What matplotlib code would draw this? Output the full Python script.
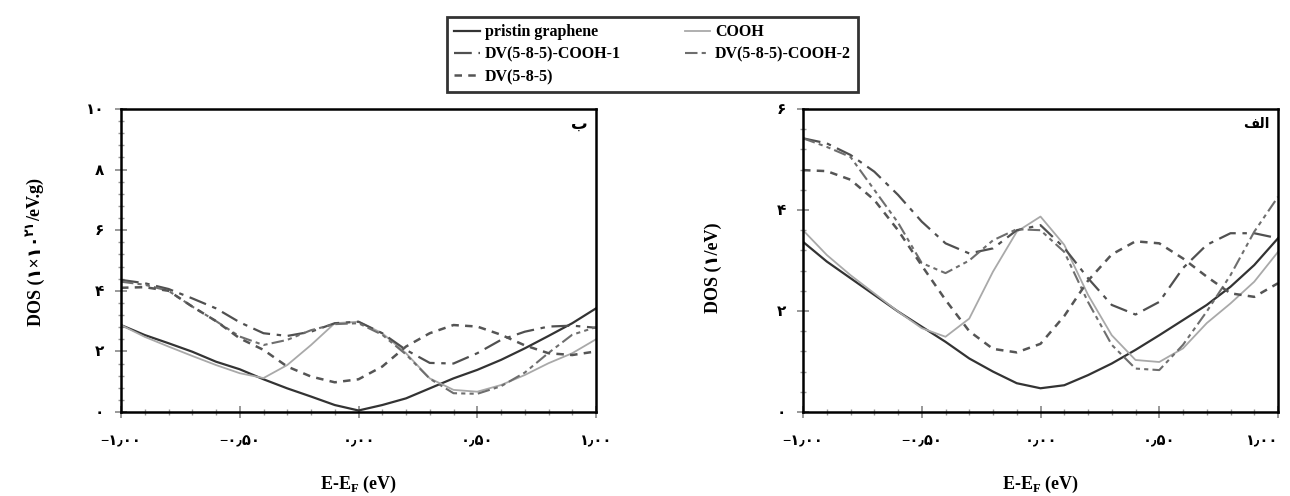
import matplotlib
matplotlib.use("Agg")
import matplotlib.pyplot as plt

FAM = ['Liberation Serif', 'DejaVu Sans']
plt.rcParams['font.family'] = FAM
plt.rcParams['font.weight'] = 'bold'

W, H = 1290, 496

# energy grid (eV)
energy = [-1.0, -0.9, -0.8, -0.7, -0.6, -0.5, -0.4, -0.3, -0.2, -0.1, 0.0,
          0.1, 0.2, 0.3, 0.4, 0.5, 0.6, 0.7, 0.8, 0.9, 1.0]

# panel b (left), DOS (1x10^21 /eV.g)
pristine_b = [2.87, 2.54, 2.27, 1.99, 1.66, 1.41, 1.08, 0.78, 0.51, 0.23, 0.05,
              0.23, 0.45, 0.78, 1.11, 1.39, 1.72, 2.10, 2.51, 2.93, 3.42]
cooh_b = [2.87, 2.48, 2.16, 1.85, 1.55, 1.28, 1.12, 1.55, 2.21, 2.93, 2.98,
          2.60, 1.94, 1.11, 0.73, 0.67, 0.89, 1.22, 1.61, 1.94, 2.40]
cooh1_b = [4.36, 4.25, 4.06, 3.75, 3.42, 2.96, 2.60, 2.51, 2.65, 2.93, 2.98,
           2.60, 2.05, 1.62, 1.60, 1.94, 2.38, 2.65, 2.82, 2.85, 2.78]
cooh2_b = [4.30, 4.20, 4.00, 3.48, 3.00, 2.49, 2.21, 2.38, 2.70, 2.90, 2.93,
           2.55, 1.90, 1.10, 0.62, 0.60, 0.85, 1.30, 1.95, 2.55, 2.80]
dv_b = [4.10, 4.12, 4.00, 3.48, 3.00, 2.43, 2.05, 1.50, 1.17, 0.98, 1.08,
        1.50, 2.16, 2.60, 2.87, 2.82, 2.55, 2.20, 1.94, 1.88, 2.00]

# panel a (right), DOS (1/eV)
pristine_a = [3.37, 2.98, 2.65, 2.32, 1.99, 1.69, 1.39, 1.06, 0.80, 0.57, 0.47,
              0.53, 0.73, 0.96, 1.23, 1.52, 1.82, 2.12, 2.48, 2.91, 3.44]
cooh_a = [3.60, 3.11, 2.71, 2.35, 1.99, 1.66, 1.49, 1.85, 2.78, 3.57, 3.87,
          3.31, 2.32, 1.52, 1.03, 0.99, 1.26, 1.76, 2.15, 2.58, 3.17]
cooh1_a = [5.42, 5.32, 5.09, 4.76, 4.30, 3.77, 3.34, 3.14, 3.24, 3.60, 3.70,
           3.25, 2.65, 2.12, 1.93, 2.18, 2.85, 3.31, 3.54, 3.54, 3.44]
cooh2_a = [5.42, 5.25, 5.05, 4.40, 3.75, 2.95, 2.75, 3.00, 3.40, 3.62, 3.60,
           3.17, 2.18, 1.33, 0.86, 0.83, 1.33, 1.99, 2.71, 3.57, 4.26]
dv_a = [4.79, 4.77, 4.60, 4.20, 3.60, 2.90, 2.22, 1.60, 1.25, 1.18, 1.35,
        1.90, 2.60, 3.12, 3.38, 3.34, 3.04, 2.68, 2.35, 2.28, 2.55]

labels = ['pristin graphene', 'COOH', 'DV(5-8-5)-COOH-1', 'DV(5-8-5)-COOH-2', 'DV(5-8-5)']

xticks = [-1.0, -0.5, 0.0, 0.5, 1.0]
xticklabels = ['\u2212\u06f1\u066b\u06f0\u06f0', '\u2212\u06f0\u066b\u06f5\u06f0',
               '\u06f0\u066b\u06f0\u06f0', '\u06f0\u066b\u06f5\u06f0', '\u06f1\u066b\u06f0\u06f0']
yticks_b = [0, 2, 4, 6, 8, 10]
yticklabels_b = ['\u06f0', '\u06f2', '\u06f4', '\u06f6', '\u06f8', '\u06f1\u06f0']
yticks_a = [0, 2, 4, 6]
yticklabels_a = ['\u06f0', '\u06f2', '\u06f4', '\u06f6']

styles = {
    'pristin graphene': dict(color='#333333', lw=1.6, ls='-'),
    'COOH': dict(color='#a9a9a9', lw=1.3, ls='-'),
    'DV(5-8-5)-COOH-1': dict(color='#505050', lw=1.6, dashes=(8, 3, 2, 3)),
    'DV(5-8-5)-COOH-2': dict(color='#6e6e6e', lw=1.5, dashes=(6, 2, 2, 2, 2, 2)),
    'DV(5-8-5)': dict(color='#555555', lw=1.8, dashes=(3, 2.5)),
}

fig = plt.figure(figsize=(W / 100, H / 100), dpi=100)
ax_b = fig.add_axes([121 / W, 1 - 412 / H, 475 / W, 303 / H])
ax_a = fig.add_axes([803 / W, 1 - 412 / H, 475 / W, 303 / H])

series_b = [pristine_b, cooh_b, cooh1_b, cooh2_b, dv_b]
series_a = [pristine_a, cooh_a, cooh1_a, cooh2_a, dv_a]

handles = {}
for ax, series in ((ax_b, series_b), (ax_a, series_a)):
    for lab, vals in zip(labels, series):
        ln, = ax.plot(energy, vals, label=lab, solid_joinstyle='round', **styles[lab])
        handles[lab] = ln


def style_axes(ax, yt, ytl, ymax, minor_step):
    ax.set_xlim(-1, 1)
    ax.set_ylim(0, ymax)
    ax.set_xticks(xticks)
    ax.set_xticklabels(xticklabels, fontsize=10.5, fontweight='bold')
    ax.set_yticks(yt)
    ax.set_yticklabels(ytl, fontsize=11, fontweight='bold')
    ax.set_xticks([v / 10 for v in range(-10, 11)], minor=True)
    ax.set_yticks([i * minor_step for i in range(int(round(ymax / minor_step)) + 1)], minor=True)
    ax.tick_params(which='major', direction='inout', length=8, width=1.2, color='#888888')
    ax.tick_params(axis='x', which='major', pad=13)
    ax.tick_params(axis='y', which='major', pad=8)
    ax.tick_params(which='minor', direction='inout', length=4, width=1.0, color='#999999')
    ax.tick_params(top=False, right=False, which='both')
    for sp in ax.spines.values():
        sp.set_linewidth(1.8)
        sp.set_color('black')
    ax.set_xlabel('E-E$_\\mathregular{F}$ (eV)', fontsize=13, fontweight='bold', labelpad=18)


style_axes(ax_b, yticks_b, yticklabels_b, 10, 0.4)
style_axes(ax_a, yticks_a, yticklabels_a, 6, 0.4)
# keep the last x tick label inside the figure
ax_a.get_xticklabels()[-1].set_horizontalalignment('right')
ax_a.get_xticklabels()[-1].set_x(1.0)

ax_b.text(0.965, 0.95, '\ufe8f', transform=ax_b.transAxes, fontsize=12,
          fontweight='bold', ha='center', va='center', family='DejaVu Sans')
ax_a.text(0.955, 0.95, '\ufed2\ufedf\ufe8d', transform=ax_a.transAxes, fontsize=10,
          fontweight='bold', ha='center', va='center', family='DejaVu Sans')

order = ['pristin graphene', 'DV(5-8-5)-COOH-1', 'DV(5-8-5)', 'COOH', 'DV(5-8-5)-COOH-2']
leg = fig.legend([handles[k] for k in order], order, ncol=2, loc='upper left',
                 bbox_to_anchor=(447 / W, 1 - 17 / H), frameon=True, fancybox=False,
                 prop=dict(family=FAM, weight='bold', size=11.5),
                 handlelength=1.6, handletextpad=0.3, columnspacing=4.0,
                 labelspacing=0.4, borderpad=0.45, borderaxespad=0)
leg.get_frame().set_edgecolor('black')
leg.get_frame().set_linewidth(2.0)

# y labels built from pieces so the superscript can use Persian digits
fig.canvas.draw()
rend = fig.canvas.get_renderer()


def stacked_label(xc, yc, pieces):
    items = []
    for s, size, dx in pieces:
        t = fig.text(0, 0, s, rotation=90, fontsize=size, fontweight='bold',
                     family=FAM, ha='center', va='bottom')
        items.append((t, dx))
    lens = [t.get_window_extent(rend).height for t, _ in items]
    y = yc - sum(lens) / 2
    for (t, dx), L in zip(items, lens):
        t.set_position(((xc + dx) / W, y / H))
        y += L


stacked_label(36, H - 252, [('DOS (\u06f1\u00d7\u06f1\u06f0', 13, 0),
                             ('\u06f2\u06f1', 9, -5),
                             ('/eV.g)', 13, 0)])
stacked_label(713, H - 268, [('DOS (\u06f1/eV)', 13, 0)])

fig.savefig('out.png', dpi=100)
